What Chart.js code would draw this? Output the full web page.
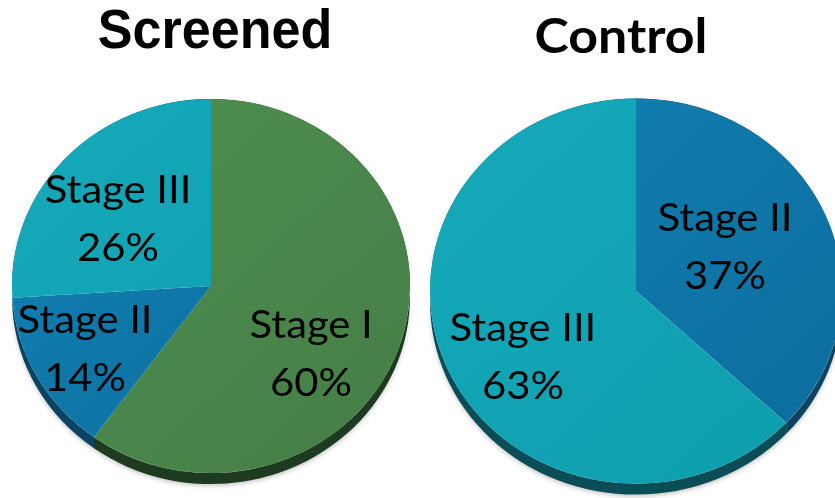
<!DOCTYPE html>
<html>
<head>
<meta charset="utf-8">
<script src="https://cdn.jsdelivr.net/npm/chart.js@4.4.1/dist/chart.umd.min.js"></script>
<style>
  html, body { margin: 0; padding: 0; background: #fff; width: 835px; height: 498px; overflow: hidden; position: relative; }
  canvas { position: absolute; top: 0; }
  #screenedPie { left: 0; }
  #controlPie { left: 420px; }
</style>
</head>
<body>
<canvas id="screenedPie" width="422" height="498"></canvas>
<canvas id="controlPie" width="440" height="498"></canvas>
<script>
// Stage distribution of detected cancers, screened group vs control group (%)
const screenedTitle = 'Screened';
const screenedStages = ['Stage I', 'Stage II', 'Stage III'];
const screenedShares = [60, 14, 26];

const controlTitle = 'Control';
const controlStages = ['Stage II', 'Stage III'];
const controlShares = [37, 63];

// Face (light, dark) and side-wall colours for each stage
const stageLook = {
  'Stage I':   { face: ['#4f9151', '#457d46'], side: '#1e3a20' },
  'Stage II':  { face: ['#1282b4', '#0b6b9b'], side: '#0a4462' },
  'Stage III': { face: ['#14a9ba', '#0e9ead'], side: '#0b4d57' }
};

function faceFill(stages) {
  return (c) => {
    const look = stageLook[stages[c.dataIndex]];
    const area = c.chart.chartArea;
    if (!area) return look.face[0];
    const g = c.chart.ctx.createLinearGradient(area.left, area.top, area.right, area.bottom);
    g.addColorStop(0, look.face[0]);
    g.addColorStop(1, look.face[1]);
    return g;
  };
}

// Draws the pie as a tilted disc with a side wall, then its in-slice labels
const tiltedPie = {
  id: 'tiltedPie',
  beforeDatasetsDraw(chart, args, opts) {
    const arcs = chart.getDatasetMeta(0).data;
    const ctx = chart.ctx;
    ctx.save();
    if (!arcs.length) return;
    const cx = arcs[0].x, cy = arcs[0].y;
    ctx.translate(cx, cy);
    ctx.scale(1, opts.squash);
    ctx.translate(-cx, -cy);
    const d = opts.depth / opts.squash;
    ctx.save();
    ctx.shadowColor = 'rgba(0,0,0,0.22)';
    ctx.shadowBlur = 4;
    ctx.shadowOffsetY = 2;
    arcs.forEach((arc, i) => {
      const p = arc.getProps(['x', 'y', 'startAngle', 'endAngle', 'outerRadius'], true);
      ctx.fillStyle = stageLook[opts.stages[i]].side;
      ctx.beginPath();
      ctx.arc(p.x, p.y, p.outerRadius, p.startAngle, p.endAngle);
      ctx.arc(p.x, p.y + d, p.outerRadius, p.endAngle, p.startAngle, true);
      ctx.closePath();
      ctx.fill();
    });
    ctx.restore();
  },
  afterDatasetsDraw(chart, args, opts) {
    const ctx = chart.ctx;
    ctx.restore();
    const arcs = chart.getDatasetMeta(0).data;
    const values = chart.data.datasets[0].data;
    ctx.save();
    ctx.fillStyle = '#000';
    ctx.textAlign = 'center';
    ctx.textBaseline = 'alphabetic';
    ctx.font = opts.labelFont;
    arcs.forEach((arc, i) => {
      const r = arc.outerRadius;
      const spot = opts.spots[i];
      const lx = arc.x + spot[0] * r;
      const ly = arc.y + spot[1] * r;
      const lines = [chart.data.labels[i], values[i] + '%'];
      ctx.save();
      ctx.translate(lx, ly);
      ctx.scale(opts.labelStretch, 1);
      ctx.fillText(lines[0], 0, -16);
      ctx.fillText(lines[1], 0, 42);
      ctx.restore();
    });
    ctx.restore();
  },
  afterDraw(chart, args, opts) {
    const ctx = chart.ctx;
    ctx.save();
    ctx.fillStyle = '#000';
    ctx.textAlign = 'center';
    ctx.textBaseline = 'alphabetic';
    ctx.font = opts.headFont;
    ctx.translate(opts.headAt[0], opts.headAt[1]);
    ctx.scale(opts.headStretch, 1);
    ctx.fillText(opts.head, 0, 0);
    ctx.restore();
  }
};

function pieChart(id, stages, shares, padding, extra) {
  return new Chart(document.getElementById(id), {
    type: 'pie',
    data: {
      labels: stages,
      datasets: [{ data: shares, backgroundColor: faceFill(stages), borderWidth: 0 }]
    },
    options: {
      responsive: false,
      animation: false,
      events: [],
      layout: { padding },
      plugins: {
        legend: { display: false },
        tooltip: { enabled: false },
        title: { display: false },
        tiltedPie: Object.assign({
          stages,
          labelFont: '38px Lato, "Open Sans", sans-serif',
          labelStretch: 1.1
        }, extra)
      }
    },
    plugins: [tiltedPie]
  });
}

pieChart('screenedPie', screenedStages, screenedShares,
  { left: 12, right: 12, top: 87, bottom: 13 },
  {
    squash: 0.94, depth: 11,
    spots: [[0.503, 0.342], [-0.633, 0.317], [-0.467, -0.337]],
    head: screenedTitle, headFont: 'bold 56px "Liberation Sans", Arial, sans-serif',
    headAt: [215, 48], headStretch: 0.93
  });

pieChart('controlPie', controlStages, controlShares,
  { left: 10, right: 18, top: 85, bottom: 1 },
  {
    squash: 0.935, depth: 11,
    spots: [[0.432, -0.214], [-0.549, 0.320]],
    head: controlTitle, headFont: 'bold 48px Lato, "Open Sans", sans-serif',
    headAt: [201, 53], headStretch: 1.08
  });
</script>
</body>
</html>
